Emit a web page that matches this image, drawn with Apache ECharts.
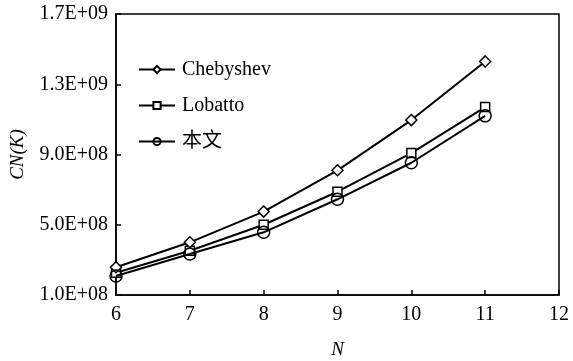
<!DOCTYPE html>
<html>
<head>
<meta charset="utf-8">
<script src="https://cdn.jsdelivr.net/npm/echarts@6/dist/echarts.min.js"></script>
<style>
  html, body { margin: 0; padding: 0; background: #fff; }
  #chart { width: 573px; height: 361px; }
</style>
</head>
<body>
<div id="chart"></div>
<script>
// N 取值
const nValues = [6, 7, 8, 9, 10, 11];
// 各方法的条件数 CN(K)
const chebyshev = [2.58e8, 4.0e8, 5.75e8, 8.1e8, 1.096e9, 1.43e9];
const lobatto = [2.27e8, 3.52e8, 5.0e8, 6.88e8, 9.08e8, 1.17e9];
const benwen = [2.08e8, 3.33e8, 4.57e8, 6.45e8, 8.53e8, 1.12e9];
// y 轴刻度
const yTicks = [1e8, 5e8, 9e8, 1.3e9, 1.7e9];

const font = "'Liberation Serif', 'Noto Sans CJK SC', serif";

function sci(v) {
  // 1.7E+09 这种写法
  let [m, e] = v.toExponential(1).toUpperCase().split("E");
  let sign = e[0] === "-" ? "-" : "+";
  let d = e.replace(/[+-]/, "");
  if (d.length < 2) d = "0" + d;
  return m + "E" + sign + d;
}

function pairs(arr) {
  return nValues.map((n, i) => [n, arr[i]]);
}

const lineStyle = { color: "#000", width: 2 };
const itemStyle = { color: "#fff", borderColor: "#000", borderWidth: 1.5 };

const chart = echarts.init(document.getElementById("chart"));
chart.setOption({
  animation: false,
  backgroundColor: "#fff",
  grid: {
    left: 116,
    top: 14,
    right: 14,
    bottom: 66,
    containLabel: false,
    outerBoundsMode: "none",
    show: true,
    borderColor: "#000",
    borderWidth: 1.5,
  },
  legend: {
    orient: "vertical",
    left: 133,
    top: 54,
    itemWidth: 36,
    itemHeight: 9,
    itemGap: 15,
    textStyle: { fontFamily: font, fontSize: 20, color: "#000", lineHeight: 21, padding: [0, 0, 0, 2] },
    data: ["Chebyshev", "Lobatto", "本文"],
  },
  xAxis: {
    type: "value",
    min: 6,
    max: 12,
    interval: 1,
    name: "N",
    nameLocation: "middle",
    nameGap: 45,
    nameTextStyle: { fontFamily: font, fontSize: 19, fontStyle: "italic", color: "#000" },
    axisLine: { lineStyle: { color: "#000", width: 1.5 } },
    axisTick: { inside: true, length: 5, lineStyle: { color: "#000", width: 1.5 } },
    axisLabel: { fontFamily: font, fontSize: 20, color: "#000", margin: 10 },
    splitLine: { show: false },
  },
  yAxis: {
    type: "value",
    min: 1e8,
    max: 1.7e9,
    name: "CN(K)",
    nameLocation: "middle",
    nameGap: 88,
    nameTextStyle: { fontFamily: font, fontSize: 19, fontStyle: "italic", color: "#000" },
    axisLine: { show: true, lineStyle: { color: "#000", width: 1.5 } },
    axisTick: {
      show: true,
      inside: true,
      length: 5,
      customValues: yTicks,
      lineStyle: { color: "#000", width: 1.5 },
    },
    axisLabel: {
      fontFamily: font,
      fontSize: 20,
      color: "#000",
      margin: 8,
      customValues: yTicks,
      formatter: sci,
    },
    splitLine: { show: false },
  },
  series: [
    {
      name: "Chebyshev",
      type: "line",
      data: pairs(chebyshev),
      symbol: "diamond",
      symbolSize: 11,
      lineStyle: lineStyle,
      itemStyle: itemStyle,
      z: 3,
    },
    {
      name: "Lobatto",
      type: "line",
      data: pairs(lobatto),
      symbol: "rect",
      symbolSize: 9,
      lineStyle: lineStyle,
      itemStyle: itemStyle,
      z: 2,
    },
    {
      name: "本文",
      type: "line",
      data: pairs(benwen),
      symbol: "circle",
      symbolSize: 12,
      lineStyle: lineStyle,
      itemStyle: { color: "transparent", borderColor: "#000", borderWidth: 1.5 },
      z: 4,
    },
  ],
});
</script>
</body>
</html>
